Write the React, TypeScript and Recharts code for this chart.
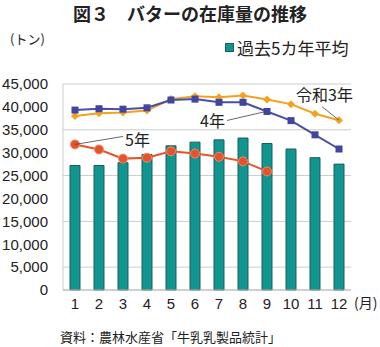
import React from 'react';
import {
  ComposedChart,
  Bar,
  Line,
  XAxis,
  YAxis,
  CartesianGrid,
  Legend,
  LabelList,
} from 'recharts';

const months = ['1', '2', '3', '4', '5', '6', '7', '8', '9', '10', '11', '12'];
const avg5y = [27200, 27200, 27800, 29600, 31500, 32300, 32800, 33200, 32000, 30800, 28900, 27500];
const reiwa3 = [38000, 38600, 38800, 39200, 41700, 42300, 42100, 42500, 41600, 40600, 38500, 37100];
const reiwa4 = [39300, 39600, 39500, 39800, 41500, 41700, 41000, 41000, 39000, 37000, 33900, 30800];
const reiwa5 = [31800, 30700, 28700, 28900, 30300, 29800, 29100, 28100, 25900, null, null, null];
const yTicks = [0, 5000, 10000, 15000, 20000, 25000, 30000, 35000, 40000, 45000];

const data = months.map((m, i) => ({
  month: m,
  avg: avg5y[i],
  r3: reiwa3[i],
  r4: reiwa4[i],
  r5: reiwa5[i],
}));

const NUM_FONT = '"Liberation Sans", Arial, sans-serif';
const JP_FONT = '"Noto Sans CJK JP", sans-serif';

const fmt = (v: number) => v.toLocaleString('en-US');

const diamondDot = (p: any) => {
  const { cx, cy, key } = p;
  if (cy == null) return <g key={key} />;
  return (
    <path
      key={key}
      d={`M${cx},${cy - 4} L${cx + 4},${cy} L${cx},${cy + 4} L${cx - 4},${cy} Z`}
      fill="#f3a21f"
    />
  );
};

const squareDot = (p: any) => {
  const { cx, cy, key } = p;
  if (cy == null) return <g key={key} />;
  return <rect key={key} x={cx - 3.5} y={cy - 3.5} width={7} height={7} fill="#3f45a0" />;
};

const circleDot = (p: any) => {
  const { cx, cy, key } = p;
  if (cy == null) return <g key={key} />;
  return <circle key={key} cx={cx} cy={cy} r={4.5} fill="#e5532c" stroke="#f08a6a" strokeWidth={1} />;
};

const annotation = (target: number, text: string, kind: 'r3' | 'r4' | 'r5') => (p: any) => {
  const { x, y, index } = p;
  if (index !== target || y == null) return null;
  if (kind === 'r5') {
    return (
      <g>
        <line x1={x} y1={y} x2={x + 48} y2={y - 8} stroke="#444" strokeWidth={0.8} />
        <text x={x + 50} y={y - 5.5} fontSize={16} fontFamily={JP_FONT} fill="#222" dominantBaseline="central">
          {text}
        </text>
      </g>
    );
  }
  if (kind === 'r4') {
    return (
      <g>
        <line x1={x - 1} y1={y} x2={x - 40} y2={y + 9} stroke="#444" strokeWidth={0.8} />
        <text x={x - 42} y={y + 8.5} fontSize={16} fontFamily={JP_FONT} fill="#222" textAnchor="end" dominantBaseline="central">
          {text}
        </text>
      </g>
    );
  }
  return (
    <g>
      <line x1={x} y1={y} x2={x - 17} y2={y - 13.5} stroke="#444" strokeWidth={0.8} />
      <text x={x + 14} y={y - 26} fontSize={16} fontFamily={JP_FONT} fill="#222" textAnchor="end" dominantBaseline="central">
        {text}
      </text>
    </g>
  );
};

const LegendBox = () => (
  <div style={{ display: 'flex', alignItems: 'center', fontFamily: JP_FONT, fontSize: 17, color: '#222' }}>
    <span style={{ display: 'inline-block', width: 7, height: 7, background: '#109590', border: '1px solid #1d5f5c', marginRight: 3 }} />
    過去5カ年平均
  </div>
);

export default function App() {
  return (
    <div style={{ position: 'absolute', left: 0, top: 0, width: 380, height: 347, background: '#fff' }}>
      <div
        style={{
          position: 'absolute', top: 0, left: 0, width: 380, textAlign: 'center',
          fontFamily: JP_FONT, fontSize: 18, fontWeight: 700, lineHeight: '26px', color: '#222',
        }}
      >
        図３　バターの在庫量の推移
      </div>
      <div style={{ position: 'absolute', top: 29, left: 10, fontFamily: JP_FONT, fontSize: 13, color: '#222' }}>
        (トン)
      </div>
      <ComposedChart
        width={380}
        height={347}
        data={data}
        margin={{ top: 59, right: 29, bottom: 0, left: 0 }}
      >
        <CartesianGrid vertical={false} stroke="#cccccc" />
        <XAxis
          dataKey="month"
          height={57}
          tickLine={false}
          axisLine={{ stroke: '#bbbbbb' }}
          tick={{ fontSize: 15, fontFamily: NUM_FONT, fill: '#222' }}
          interval={0}
        />
        <YAxis
          width={63}
          domain={[0, 45000]}
          ticks={yTicks}
          tickFormatter={fmt}
          tickLine={false}
          tickSize={13}
          axisLine={{ stroke: '#cccccc' }}
          tick={{ fontSize: 15, fontFamily: NUM_FONT, fill: '#222' }}
        />
        <YAxis
          yAxisId="right"
          orientation="right"
          width={0}
          domain={[0, 45000]}
          tick={false}
          tickLine={false}
          axisLine={{ stroke: '#cccccc' }}
        />
        <Legend
          verticalAlign="top"
          align="right"
          content={<LegendBox />}
          wrapperStyle={{ position: 'absolute', top: 35, left: 225, width: 140 }}
        />
        <Bar dataKey="avg" barSize={10} fill="#109590" stroke="#1d5f5c" strokeWidth={1} isAnimationActive={false} />
        <Line
          dataKey="r3"
          stroke="#f3a21f"
          strokeWidth={2}
          dot={diamondDot}
          activeDot={false}
          legendType="none"
          isAnimationActive={false}
        >
          <LabelList dataKey="r3" content={annotation(11, '令和3年', 'r3')} />
        </Line>
        <Line
          dataKey="r4"
          stroke="#4a4fa6"
          strokeWidth={2}
          dot={squareDot}
          activeDot={false}
          legendType="none"
          isAnimationActive={false}
        >
          <LabelList dataKey="r4" content={annotation(8, '4年', 'r4')} />
        </Line>
        <Line
          dataKey="r5"
          stroke="#e5532c"
          strokeWidth={2}
          dot={circleDot}
          activeDot={false}
          legendType="none"
          connectNulls={false}
          isAnimationActive={false}
        >
          <LabelList dataKey="r5" content={annotation(0, '5年', 'r5')} />
        </Line>
      </ComposedChart>
      <div style={{ position: 'absolute', top: 292, left: 354, fontFamily: JP_FONT, fontSize: 14, color: '#222' }}>
        (月)
      </div>
      <div style={{ position: 'absolute', top: 327, left: 60, fontFamily: JP_FONT, fontSize: 13, color: '#222' }}>
        資料：農林水産省「牛乳乳製品統計」
      </div>
    </div>
  );
}
